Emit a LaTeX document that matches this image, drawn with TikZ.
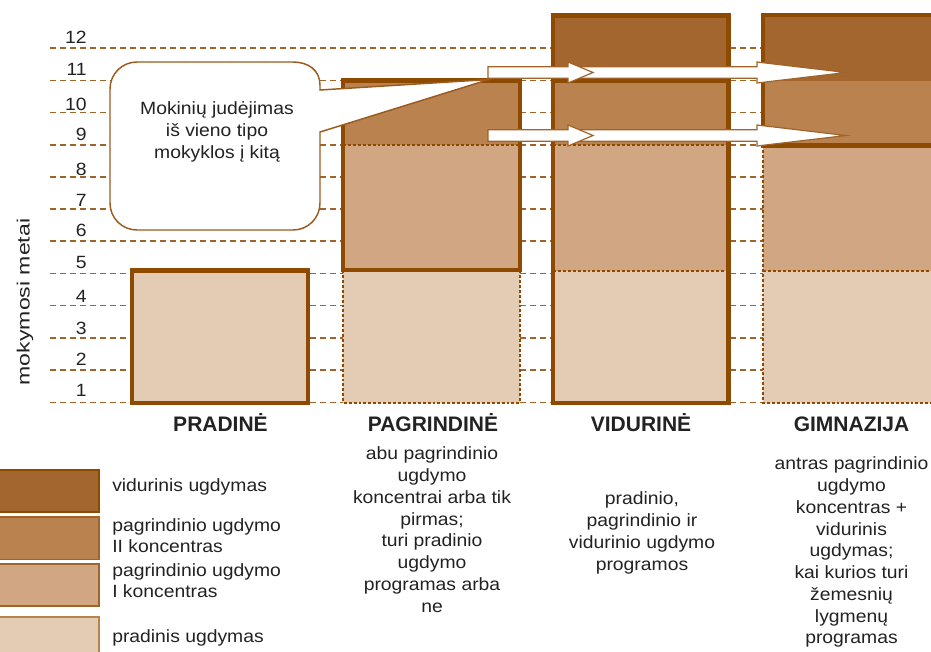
\documentclass[tikz,border=0pt]{standalone}
\usepackage{fontspec}
\setmainfont{Liberation Sans}[FakeStretch=1.09]
\newfontfamily\plainf{Liberation Sans}
\usepackage{graphicx}
\definecolor{cdark}{HTML}{A3662F}
\definecolor{cmdark}{HTML}{B9824F}
\definecolor{cmed}{HTML}{D1A682}
\definecolor{clight}{HTML}{E4CCB4}
\definecolor{brd}{HTML}{8E4A00}
\definecolor{gridc}{HTML}{A0642A}
\definecolor{callc}{HTML}{9B5B1E}
\definecolor{txt}{HTML}{222222}
\newcommand\blockarrow[4]{%
  \filldraw[blockarr] (#1,#4-5.8) -- (#2,#4-5.8) -- (#2,#4-10.5) -- (#3,#4) -- (#2,#4+10.5) -- (#2,#4+5.8) -- (#1,#4+5.8) -- cycle;}
\begin{document}
\begin{tikzpicture}[x=0.75pt,y=-0.75pt,
  gridline/.style={draw=gridc, line width=0.9pt, dash pattern=on 4.5pt off 3pt},
  dots/.style={draw=brd, line width=1.5pt, dash pattern=on 2.2pt off 1.5pt},
  thickb/.style={draw=brd, line width=3.3pt},
  lbl/.style={inner sep=0pt, text=txt, font=\fontsize{13.3}{16.3}\selectfont, align=center},
  leg/.style={inner sep=0pt, text=txt, font=\fontsize{13.3}{15.4}\selectfont, align=left, anchor=north west},
  title/.style={inner sep=0pt, text=txt, anchor=base, font=\plainf\bfseries\fontsize{15.75}{18}\selectfont},
  num/.style={inner sep=0pt, anchor=east, text=txt, font=\fontsize{13.3}{16}\selectfont},
  blockarr/.style={fill=white, draw=gridc, line width=0.9pt, line join=miter},
  callout/.style={fill=white, draw=callc, line width=1.1pt},
  swatch/.style={line width=1.1pt}]
\useasboundingbox (0,0) rectangle (931,651);
% grid lines
\foreach \yy in {48,80.5,112.5,145,177,209,241,273.5,305.5,338,370,402.5}
  \draw[gridline] (50,\yy) -- (931,\yy);
% numbers
\node[num] (n1) at (87,390) {1};
\node[num] (n2) at (87,359) {2};
\node[num] (n3) at (87,328) {3};
\node[num] (n4) at (87,296) {4};
\node[num] (n5) at (87,262) {5};
\node[num] (n6) at (87,230.5) {6};
\node[num] (n7) at (87,200.5) {7};
\node[num] (n8) at (87,169.5) {8};
\node[num] (n9) at (87,134.5) {9};
\node[num] (n10) at (87,104.5) {10};
\node[num] (n11) at (87,69.5) {11};
\node[num] (n12) at (87,37) {12};
\node[inner sep=0pt, text=txt, rotate=90] (ylab) at (25,302)
  {\scalebox{1.3}[1]{\plainf\fontsize{13.3}{16}\selectfont mokymosi metai}};
% PRADINE
\filldraw[fill=clight, thickb] (132,270.5) rectangle (308,403);
% PAGRINDINE
\fill[clight] (343,270) rectangle (520,402.5);
\draw[dots] (343,270) -- (343,402.5) -- (520,402.5) -- (520,270);
\fill[cmed] (343,145) rectangle (520,270);
\fill[cmdark] (343,80.5) rectangle (520,145);
\draw[dots] (343,145) -- (520,145);
\draw[thickb] (343,80.5) rectangle (520,270);
% VIDURINE
\fill[cdark] (553,15.5) rectangle (728.5,80.5);
\fill[cmdark] (553,80.5) rectangle (728.5,145);
\fill[cmed] (553,145) rectangle (728.5,270.5);
\fill[clight] (553,270.5) rectangle (728.5,403);
\draw[dots] (553,145) -- (728.5,145);
\draw[dots] (553,270.5) -- (728.5,270.5);
\draw[thickb] (553,80.5) -- (728.5,80.5);
\draw[thickb] (553,15.5) rectangle (728.5,403);
% GIMNAZIJA
\fill[cdark] (763,15) rectangle (940,81);
\fill[cmdark] (763,81) rectangle (940,145.5);
\fill[cmed] (763,145.5) rectangle (940,270.5);
\fill[clight] (763,270.5) rectangle (940,402.5);
\draw[dots] (763,270.5) -- (940,270.5);
\draw[dots] (763,145.5) -- (763,402.5) -- (940,402.5);
\draw[thickb] (940,15) -- (763,15) -- (763,145.5) -- (940,145.5);
% callout
\filldraw[callout] (137,62) -- (293,62) .. controls (308,62) and (320,70) .. (320,85)
  -- (320,90) -- (489,79.5) -- (320,132) -- (320,203)
  .. controls (320,218) and (308,230) .. (293,230) -- (137,230)
  .. controls (122,230) and (110,218) .. (110,203) -- (110,89)
  .. controls (110,74) and (122,62) .. (137,62) -- cycle;
\node[lbl, anchor=north] (callouttext) at (217,100)
  {\rule{0pt}{11pt}Mokinių judėjimas\\iš vieno tipo\\mokyklos į kitą};
% arrows
\blockarrow{580}{757}{846}{72.5}
\blockarrow{488}{568}{593}{72.5}
\blockarrow{580}{757}{846}{135.5}
\blockarrow{488}{568}{593}{135.5}
% titles
\node[title] (tprad) at (220.5,431.7) {PRADINĖ};
\node[title] (tpagr) at (433,431.7) {PAGRINDINĖ};
\node[title] (tvid) at (641,431.7) {VIDURINĖ};
\node[title] (tgimn) at (851.5,431.7) {GIMNAZIJA};
% descriptions
\node[lbl, anchor=north] (dpagr) at (432,445)
  {\rule{0pt}{11pt}abu pagrindinio\\ugdymo\\koncentrai arba tik\\pirmas;\\turi pradinio\\ugdymo\\programas arba\\ne};
\node[lbl, anchor=north] (dvid) at (642,490)
  {\rule{0pt}{11pt}pradinio,\\pagrindinio ir\\vidurinio ugdymo\\programos};
\node[lbl, anchor=north] (dgimn) at (851.5,455)
  {\rule{0pt}{11pt}antras pagrindinio\\ugdymo\\koncentras +\\vidurinis\\ugdymas;\\kai kurios turi\\žemesnių\\lygmenų\\programas};
% legend
\filldraw[swatch, fill=cdark, draw=brd] (-2,470) rectangle (99,512);
\filldraw[swatch, fill=cmdark, draw=gridc] (-2,517) rectangle (99,559.5);
\filldraw[swatch, fill=cmed, draw=gridc] (-2,564) rectangle (99,606);
\filldraw[swatch, fill=clight, draw=cmdark] (-2,617) rectangle (99,660);
\node[leg] (l1) at (112,477) {\rule{0pt}{11pt}vidurinis ugdymas};
\node[leg] (l2) at (112,517) {\rule{0pt}{11pt}pagrindinio ugdymo\\II koncentras};
\node[leg] (l3) at (112,562) {\rule{0pt}{11pt}pagrindinio ugdymo\\I koncentras};
\node[leg] (l4) at (112,628) {\rule{0pt}{11pt}pradinis ugdymas};
\end{tikzpicture}
\end{document}
